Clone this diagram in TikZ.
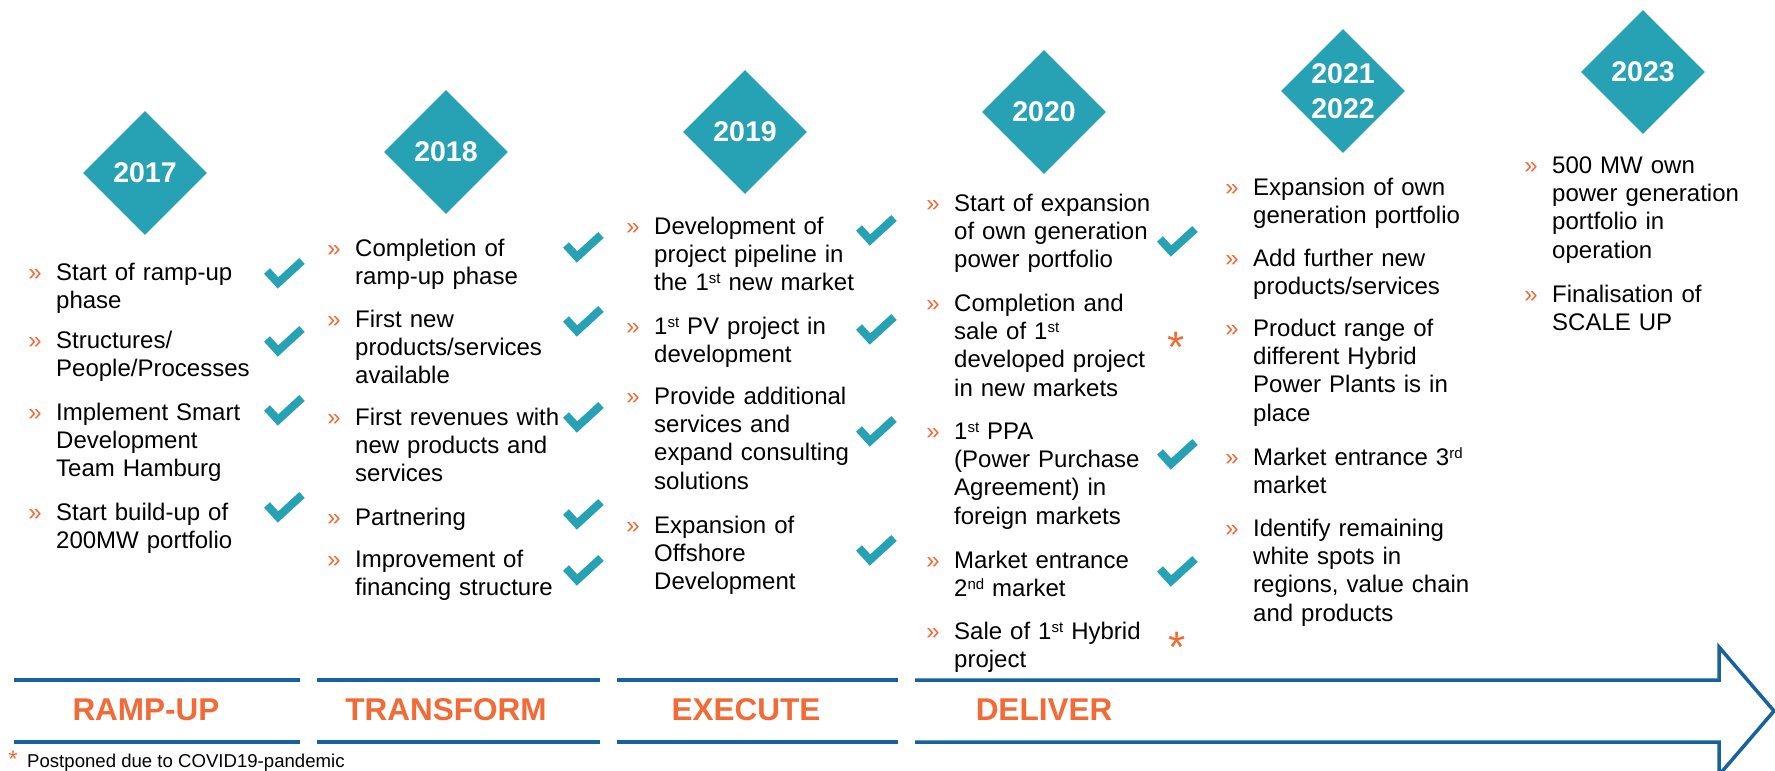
\documentclass[tikz,border=0pt]{standalone}
\usepackage{fontspec}
\setmainfont{Liberation Sans}
\usetikzlibrary{shapes.geometric}
\definecolor{myteal}{RGB}{39,162,180}
\definecolor{myorange}{RGB}{242,106,54}
\definecolor{myblue}{RGB}{22,98,158}
\newcommand\mysup[1]{\raisebox{7pt}{\fontsize{15}{15}\selectfont #1}}
\tikzset{
  bul/.style={anchor=base, inner sep=0pt, text=myorange, font=\fontsize{24}{28.3}\selectfont},
  txt/.style={anchor=north west, inner sep=0pt, text width=240pt, align=left,
    font=\fontsize{24}{28.3}\selectfont},
  yr/.style={diamond, aspect=1, fill=myteal, minimum width=124pt, minimum height=124pt,
    inner sep=0pt, text=white, align=center, font=\bfseries\fontsize{28.5}{35}\selectfont},
  phase/.style={text=myorange, inner sep=0pt, font=\bfseries\fontsize{31.5}{36}\selectfont},
  chkline/.style={draw=myteal, line width=8pt, line join=miter},
  band/.style={draw=myblue, line width=3.5pt},
  astx/.style={text=myorange, inner sep=0pt, anchor=base, font=\fontsize{44}{44}\selectfont},
  chk/.pic={\draw[chkline] (-17,-3) -- (-6,9) -- (18,-13);},
}
\newcommand\itm[4]{%
  \node[bul] (#1b) at ({#2-21},#3) {»};
  \node[txt] (#1) at (#2,{#3-19.81}) {\noindent\strut #4};}
\begin{document}
\begin{tikzpicture}[x=1pt,y=-1pt]
\useasboundingbox (0,0) rectangle (1775,771);
% year diamonds
\node[yr] (y2017) at (145,173) {2017};
\node[yr] (y2018) at (446,152) {2018};
\node[yr] (y2019) at (745,132) {2019};
\node[yr] (y2020) at (1044,112) {2020};
\node[yr] (y2021) at (1343,91) {2021\\2022};
\node[yr] (y2023) at (1643,72) {2023};
% column 1
\itm{a1}{56}{280}{Start of ramp-up\\phase}
\itm{a2}{56}{348}{Structures/\\People/Processes}
\itm{a3}{56}{420}{Implement Smart\\Development\\Team Hamburg}
\itm{a4}{56}{520}{Start build-up of\\200MW portfolio}
% column 2
\itm{b1}{355}{256}{Completion of\\ramp-up phase}
\itm{b2}{355}{327}{First new\\products/services\\available}
\itm{b3}{355}{425}{First revenues with\\new products and\\services}
\itm{b4}{355}{525}{Partnering}
\itm{b5}{355}{567}{Improvement of\\financing structure}
% column 3
\itm{c1}{654}{234}{Development of\\project pipeline in\\the 1\mysup{st} new market}
\itm{c2}{654}{334}{1\mysup{st} PV project in\\development}
\itm{c3}{654}{404}{Provide additional\\services and\\expand consulting\\solutions}
\itm{c4}{654}{533}{Expansion of\\Offshore\\Development}
% column 4
\itm{d1}{954}{211}{Start of expansion\\of own generation\\power portfolio}
\itm{d2}{954}{311}{Completion and\\sale of 1\mysup{st}\\developed project\\in new markets}
\itm{d3}{954}{439}{1\mysup{st} PPA\\(Power Purchase\\Agreement) in\\foreign markets}
\itm{d4}{954}{568}{Market entrance\\2\mysup{nd} market}
\itm{d5}{954}{639}{Sale of 1\mysup{st} Hybrid\\project}
% column 5
\itm{e1}{1253}{195}{Expansion of own\\generation portfolio}
\itm{e2}{1253}{266}{Add further new\\products/services}
\itm{e3}{1253}{336}{Product range of\\different Hybrid\\Power Plants is in\\place}
\itm{e4}{1253}{465}{Market entrance 3\mysup{rd}\\market}
\itm{e5}{1253}{536}{Identify remaining\\white spots in\\regions, value chain\\and products}
% column 6
\itm{f1}{1552}{173}{500 MW own\\power generation\\portfolio in\\operation}
\itm{f2}{1552}{302}{Finalisation of\\SCALE UP}
% checks
\pic (ka1) at (284,274) {chk};
\pic (ka2) at (284,342) {chk};
\pic (ka3) at (284,411) {chk};
\pic (ka4) at (284,508) {chk};
\pic (kb1) at (583,248) {chk};
\pic (kb2) at (583,322) {chk};
\pic (kb3) at (583,418) {chk};
\pic (kb4) at (583,515) {chk};
\pic (kb5) at (583,571) {chk};
\pic (kc1) at (876,231) {chk};
\pic (kc2) at (876,330) {chk};
\pic (kc3) at (876,432) {chk};
\pic (kc4) at (876,551) {chk};
\pic (kd1) at (1177,242) {chk};
\pic (kd3) at (1177,455) {chk};
\pic (kd4) at (1177,572) {chk};
\node[astx] (sd2) at (1176,362) {*};
\node[astx] (sd5) at (1177,662) {*};
% bands
\coordinate (s1a) at (14,680); \coordinate (s1b) at (300,680);
\coordinate (s1c) at (14,742); \coordinate (s1d) at (300,742);
\coordinate (s2a) at (317,680); \coordinate (s2b) at (600,680);
\coordinate (s2c) at (317,742); \coordinate (s2d) at (600,742);
\coordinate (s3a) at (617,680); \coordinate (s3b) at (898,680);
\coordinate (s3c) at (617,742); \coordinate (s3d) at (898,742);
\draw[band] (s1a) -- (s1b); \draw[band] (s1c) -- (s1d);
\draw[band] (s2a) -- (s2b); \draw[band] (s2c) -- (s2d);
\draw[band] (s3a) -- (s3b); \draw[band] (s3c) -- (s3d);
\coordinate (aw1) at (915,680);
\coordinate (aw2) at (1719,680);
\coordinate (aw3) at (1719,647);
\coordinate (tip) at (1774,711);
\coordinate (aw4) at (1719,775);
\coordinate (aw5) at (1719,742);
\coordinate (aw6) at (915,742);
\draw[band, line join=miter] (aw1) -- (aw2) -- (aw3) -- (tip) -- (aw4) -- (aw5) -- (aw6);
\node[phase] (p1) at (146,710) {RAMP-UP};
\node[phase] (p2) at (446,710) {TRANSFORM};
\node[phase] (p3) at (746,710) {EXECUTE};
\node[phase] (p4) at (1044,710) {DELIVER};
% footnote
\node[astx, font=\fontsize{24}{24}\selectfont] (fa) at (13,767) {*};
\node[anchor=base west, inner sep=0pt, font=\fontsize{18.6}{22}\selectfont] (fn) at (27,767) {Postponed due to COVID19-pandemic};
\end{tikzpicture}
\end{document}
